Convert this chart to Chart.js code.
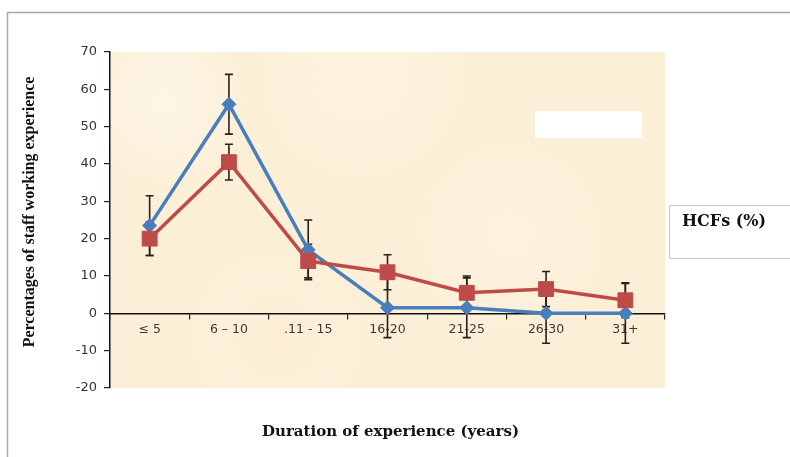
<!DOCTYPE html>
<html>
<head>
<meta charset="utf-8">
<script src="https://cdn.jsdelivr.net/npm/chart.js@4/dist/chart.umd.min.js"></script>
<style>
  html, body { margin: 0; padding: 0; background: #ffffff; }
  #wrap { width: 790px; height: 457px; position: relative; }
</style>
</head>
<body>
<div id="wrap"><canvas id="chart" width="790" height="457"></canvas></div>
<script>
// Years of working experience (categories)
const categories = ['\u2264 5', '6 \u2013 10', '.11 - 15', '16-20', '21-25', '26-30', '31+'];

// Percentage of staff per experience band, two series
const seriesBlue = [23.5, 56, 17, 1.5, 1.5, 0, 0];
const seriesRed  = [20, 40.5, 14, 11, 5.5, 6.5, 3.5];

// Error bar half-lengths for each series
const errBlue = [8, 8, 8, 8, 8, 8, 8];
const errRed  = [4.5, 4.8, 4.5, 4.7, 4.5, 4.7, 4.7];

// Value axis
const yMin = -20, yMax = 70, yStep = 10;

const xTitle = 'Duration of experience (years)';
const yTitle = 'Percentages of staff working experience';
const boxLabel = 'HCFs (%)';

const BLUE = '#4a7ebb';
const RED = '#be4b48';
const WIDE_SERIF = '"DejaVu Serif", "Liberation Serif", serif';
const SERIF = '"Liberation Serif", "Times New Roman", serif';
const SANS = '"DejaVu Sans", Verdana, sans-serif';

// Page frame, parchment plot background, titles and the side label box
const decorPlugin = {
  id: 'decor',
  beforeDraw(chart) {
    const ctx = chart.ctx;
    const a = chart.chartArea;
    ctx.save();
    // frame lines
    ctx.strokeStyle = '#a6a6a6';
    ctx.lineWidth = 1.5;
    ctx.beginPath();
    ctx.moveTo(7.5, 457);
    ctx.lineTo(7.5, 12.5);
    ctx.lineTo(790, 12.5);
    ctx.stroke();
    // parchment fill
    ctx.fillStyle = '#fcefd7';
    ctx.fillRect(a.left, a.top, a.right - a.left, a.bottom - a.top);
    const spots = [
      [0.10, 0.15, 90, 'rgba(255,253,247,0.45)'],
      [0.45, 0.06, 120, 'rgba(255,251,242,0.3)'],
      [0.72, 0.55, 110, 'rgba(255,250,240,0.25)'],
      [0.30, 0.85, 100, 'rgba(249,232,204,0.25)']
    ];
    ctx.beginPath();
    ctx.rect(a.left, a.top, a.right - a.left, a.bottom - a.top);
    ctx.clip();
    spots.forEach(([fx, fy, r, c]) => {
      const cx = a.left + fx * (a.right - a.left);
      const cy = a.top + fy * (a.bottom - a.top);
      const g = ctx.createRadialGradient(cx, cy, 0, cx, cy, r);
      g.addColorStop(0, c);
      g.addColorStop(1, 'rgba(255,255,255,0)');
      ctx.fillStyle = g;
      ctx.fillRect(cx - r, cy - r, 2 * r, 2 * r);
    });
    ctx.restore();

    ctx.save();
    // blank white patch inside the plot
    ctx.fillStyle = '#ffffff';
    ctx.fillRect(535, 111, 107, 27);
    // side label box
    ctx.strokeStyle = '#c9c9c9';
    ctx.lineWidth = 1;
    ctx.fillStyle = '#ffffff';
    ctx.fillRect(669.5, 205.5, 130, 53);
    ctx.strokeRect(669.5, 205.5, 130, 53);
    ctx.fillStyle = '#111111';
    ctx.font = 'bold 16px ' + WIDE_SERIF;
    ctx.textBaseline = 'middle';
    ctx.textAlign = 'left';
    ctx.fillText(boxLabel, 682, 222);
    // x axis title
    ctx.font = 'bold 15px ' + WIDE_SERIF;
    ctx.textAlign = 'center';
    ctx.fillText(xTitle, 390.5, 432);
    // y axis title
    ctx.font = 'bold 16px ' + SERIF;
    ctx.translate(30, 212);
    ctx.rotate(-Math.PI / 2);
    ctx.fillText(yTitle, 0, 0);
    ctx.restore();
  }
};

// Vertical error bars with caps, drawn from the series values
const errorBarPlugin = {
  id: 'errorBars',
  beforeDatasetsDraw(chart) {
    const ctx = chart.ctx;
    const xs = chart.scales.x, ys = chart.scales.y;
    ctx.save();
    ctx.strokeStyle = '#2a2018';
    ctx.lineWidth = 1.6;
    const cap = 4;
    [[seriesBlue, errBlue], [seriesRed, errRed]].forEach(([vals, errs]) => {
      vals.forEach((v, i) => {
        const x = xs.getPixelForValue(i);
        const yTop = ys.getPixelForValue(v + errs[i]);
        const yBot = ys.getPixelForValue(v - errs[i]);
        ctx.beginPath();
        ctx.moveTo(x, yTop); ctx.lineTo(x, yBot);
        ctx.moveTo(x - cap, yTop); ctx.lineTo(x + cap, yTop);
        ctx.moveTo(x - cap, yBot); ctx.lineTo(x + cap, yBot);
        ctx.stroke();
      });
    });
    ctx.restore();
  }
};

new Chart(document.getElementById('chart'), {
  type: 'line',
  data: {
    labels: categories,
    datasets: [
      {
        label: 'Series 1',
        data: seriesBlue,
        borderColor: BLUE,
        backgroundColor: BLUE,
        borderWidth: 3.5,
        pointStyle: 'rectRot',
        pointRadius: 7,
        pointBorderWidth: 1,
        tension: 0,
        order: 2
      },
      {
        label: 'Series 2',
        data: seriesRed,
        borderColor: RED,
        backgroundColor: RED,
        borderWidth: 3.5,
        pointStyle: 'rect',
        pointRadius: 10.5,
        pointBorderWidth: 1,
        tension: 0,
        order: 1
      }
    ]
  },
  options: {
    responsive: false,
    animation: false,
    layout: { padding: { left: 10, top: 52, right: 125, bottom: 69 } },
    plugins: {
      legend: { display: false },
      tooltip: { enabled: false },
      title: { display: false }
    },
    scales: {
      x: {
        type: 'category',
        position: { y: 0 },
        offset: true,
        grid: {
          offset: true,
          drawOnChartArea: false,
          drawTicks: true,
          tickLength: 5,
          color: '#222222',
          lineWidth: 1.2
        },
        border: { display: true, color: '#111111', width: 1.5 },
        ticks: {
          color: '#3a3a3a',
          font: { family: SANS, size: 12.5 },
          padding: 4,
          maxRotation: 0,
          autoSkip: false
        }
      },
      y: {
        min: yMin,
        max: yMax,
        afterFit: s => { s.width = 100; },
        grid: {
          drawOnChartArea: false,
          drawTicks: true,
          tickLength: 6,
          color: '#222222',
          lineWidth: 1.2
        },
        border: { display: true, color: '#111111', width: 1.5 },
        ticks: {
          stepSize: yStep,
          color: '#333333',
          font: { family: SANS, size: 13 },
          padding: 7
        }
      }
    }
  },
  plugins: [decorPlugin, errorBarPlugin]
});
</script>
</body>
</html>
